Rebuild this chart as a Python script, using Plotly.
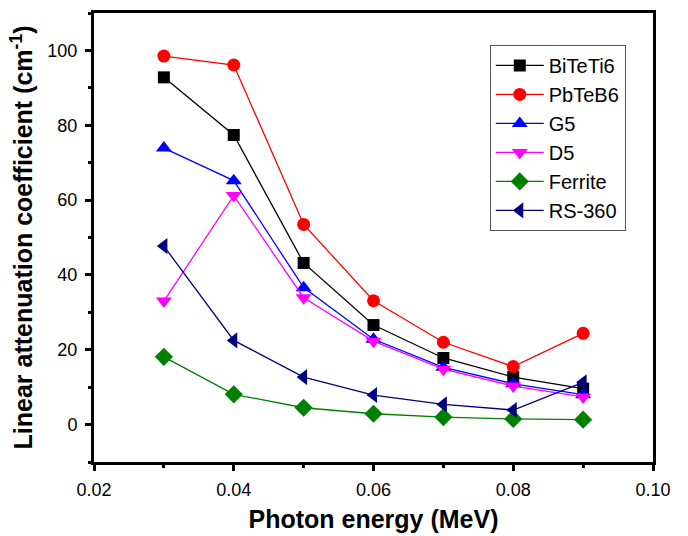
import plotly.graph_objects as go

energy = [0.03, 0.04, 0.05, 0.06, 0.07, 0.08, 0.09]
bitet = [92.8, 77.4, 43.2, 26.6, 17.8, 12.7, 9.6]
pbteb = [98.5, 96.1, 53.5, 33.1, 22.0, 15.5, 24.4]
g5 = [73.9, 65.2, 36.6, 22.8, 15.3, 10.9, 8.0]
d5 = [33.0, 61.2, 33.9, 22.3, 14.8, 10.3, 7.4]
ferrite = [18.1, 8.1, 4.5, 2.9, 2.0, 1.5, 1.3]
rs360 = [47.7, 22.5, 12.7, 7.9, 5.4, 3.9, 11.3]

series = [
    ("BiTeTi6", bitet, "#000000", "square", 12),
    ("PbTeB6", pbteb, "#FF0000", "circle", 13),
    ("G5", g5, "#0000FF", "triangle-up", 14),
    ("D5", d5, "#FF00FF", "triangle-down", 14),
    ("Ferrite", ferrite, "#008000", "diamond", 14),
    ("RS-360", rs360, "#000080", "triangle-left", 14),
]

FONT = "Liberation Sans, Arial, sans-serif"

fig = go.Figure()
for name, vals, col, sym, sz in series:
    fig.add_trace(go.Scatter(
        x=energy, y=vals, name=name, mode="lines+markers",
        line=dict(color=col, width=1.3),
        marker=dict(symbol=sym, size=sz, color=col, line=dict(width=0)),
    ))

axis_common = dict(
    showline=True, linewidth=3, linecolor="black", mirror=True,
    ticks="outside", ticklen=6, tickwidth=3, tickcolor="black",
    showgrid=False, zeroline=False, automargin=False,
    tickfont=dict(family=FONT, size=18, color="black"),
)

fig.update_xaxes(
    range=[0.02, 0.10], dtick=0.02, tickformat=".2f",
    minor=dict(ticks="outside", ticklen=3, tickwidth=3, tickcolor="black", dtick=0.01),
    ticklabelstandoff=3,
    title=dict(text="<b>Photon energy (MeV)</b>",
               font=dict(family=FONT, size=25, color="black"), standoff=12),
    **axis_common,
)
fig.update_yaxes(
    range=[-10, 110], dtick=20,
    minor=dict(ticks="outside", ticklen=3, tickwidth=3, tickcolor="black", dtick=10),
    ticklabelstandoff=4,
    title=dict(text="<b>Linear attenuation coefficient (cm<sup>-1</sup>)</b>",
               font=dict(family=FONT, size=25, color="black"), standoff=8),
    **axis_common,
)

fig.update_layout(
    width=688, height=536,
    margin=dict(l=94, r=35, t=13, b=74),
    plot_bgcolor="white", paper_bgcolor="white",
    legend=dict(
        x=0.708, y=0.929, xanchor="left", yanchor="top",
        bordercolor="#555555", borderwidth=1, bgcolor="white",
        font=dict(family=FONT, size=20, color="black"),
        tracegroupgap=0, itemwidth=48,
    ),
)

fig.write_html("out.html")
